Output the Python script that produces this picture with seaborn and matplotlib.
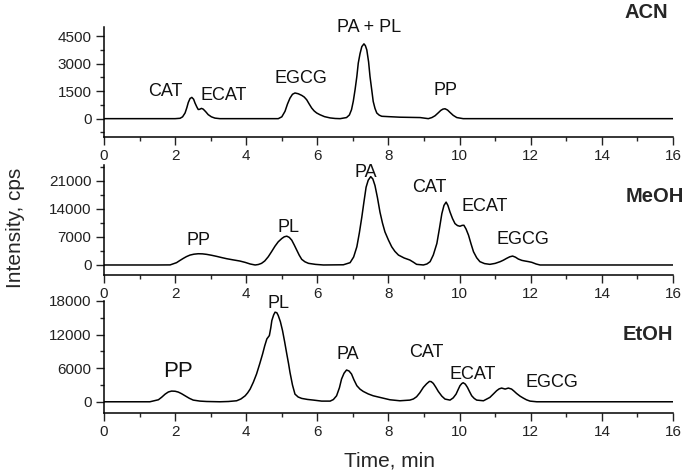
# =========================
# 1. Import Libraries
# =========================
import pandas as pd
import numpy as np
import seaborn as sns
import matplotlib.pyplot as plt
from matplotlib.ticker import MultipleLocator

# =========================
# 2. Data
# =========================
# ACN
acn_time = [0, 2.0, 2.14, 2.21, 2.28, 2.33, 2.37, 2.42, 2.47, 2.52, 2.56, 2.61, 2.65,
            2.69, 2.74, 2.79, 2.86, 2.93, 3.02, 3.12, 3.26, 4.9, 5.0, 5.09, 5.16, 5.23,
            5.30, 5.37, 5.46, 5.56, 5.63, 5.70, 5.77, 5.84, 5.91, 5.98, 6.07, 6.2, 6.36,
            6.5, 6.64, 6.82, 6.90, 6.96, 7.01, 7.06, 7.11, 7.15, 7.20, 7.25, 7.31, 7.35,
            7.39, 7.44, 7.48, 7.53, 7.57, 7.62, 7.67, 7.74, 7.81, 8.0, 8.32, 8.89, 9.12,
            9.22, 9.31, 9.40, 9.47, 9.53, 9.59, 9.66, 9.73, 9.82, 9.92, 10.1, 16]
acn_int = [0, 0, 20, 100, 310, 600, 880, 1100, 1160, 1060, 850, 640, 500,
           510, 560, 520, 380, 220, 100, 30, 0, 0, 100, 400, 800, 1120,
           1330, 1400, 1360, 1270, 1180, 1030, 800, 580, 420, 310, 217, 110, 40,
           10, 0, 60, 200, 490, 950, 1580, 2300, 3030, 3550, 3930, 4080, 3980,
           3750, 3100, 2300, 1550, 940, 560, 310, 190, 130, 110, 80, 60, 0,
           60, 160, 320, 450, 520, 540, 470, 340, 180, 60, 0, 0]

# MeOH
meoh_time = [0, 1.5, 1.86, 2.04, 2.13, 2.23, 2.32, 2.42, 2.53, 2.65, 2.77, 2.89, 3.03,
             3.17, 3.31, 3.45, 3.63, 3.82, 3.97, 4.11, 4.25, 4.34, 4.43, 4.52, 4.62,
             4.71, 4.81, 4.90, 5.0, 5.07, 5.14, 5.21, 5.28, 5.35, 5.42, 5.49, 5.56,
             5.65, 5.75, 5.95, 6.17, 6.73, 6.92, 7.02, 7.11, 7.18, 7.25, 7.31, 7.37,
             7.43, 7.5, 7.56, 7.62, 7.69, 7.76, 7.83, 7.9, 8.0, 8.09, 8.18, 8.28, 8.44,
             8.6, 8.7, 8.79, 8.98, 9.08, 9.17, 9.26, 9.36, 9.43, 9.5, 9.56, 9.62, 9.67,
             9.73, 9.8, 9.87, 9.94, 10.01, 10.07, 10.12, 10.18, 10.25, 10.32, 10.39,
             10.48, 10.57, 10.7, 10.85, 11.0, 11.14, 11.23, 11.32, 11.41, 11.49, 11.57,
             11.65, 11.75, 11.84, 11.93, 12.03, 12.15, 12.26, 16]
meoh_int = [0, 0, 20, 580, 1100, 1650, 2100, 2480, 2700, 2810, 2780, 2650, 2420,
            2150, 1850, 1570, 1280, 990, 650, 250, 0, 120, 410, 1000, 2070,
            3300, 4720, 5800, 6620, 7050, 7200, 6900, 6200, 5000, 3720, 2450, 1410,
            800, 410, 150, 0, 50, 580, 2000, 4550, 8000, 11990, 15800, 19440,
            21200, 22090, 21500, 19860, 16800, 13230, 10500, 8270, 6200, 4550, 3400, 2480, 1750,
            1240, 700, 160, 0, 250, 830, 2500, 5380, 9000, 12830, 14900, 15720, 14900,
            13230, 11600, 10340, 9850, 9680, 9900, 9930, 9000, 7450, 5300, 3310,
            1800, 830, 350, 160, 400, 830, 1200, 1650, 2050, 2230, 1950,
            1490, 1150, 990, 850, 660, 250, 0, 0]

# EtOH
etoh_time = [0, 1.29, 1.53, 1.62, 1.72, 1.81, 1.9, 2.0, 2.09, 2.18, 2.28, 2.4, 2.51,
             2.7, 2.89, 3.26, 3.5, 3.73, 3.85, 3.97, 4.04, 4.11, 4.2, 4.29, 4.38, 4.46,
             4.52, 4.58, 4.65, 4.69, 4.72, 4.77, 4.81, 4.86, 4.9, 4.96, 5.02, 5.08,
             5.14, 5.19, 5.23, 5.3, 5.37, 5.46, 5.56, 5.72, 5.89, 6.12, 6.36, 6.45,
             6.54, 6.62, 6.68, 6.75, 6.82, 6.89, 6.96, 7.03, 7.11, 7.2, 7.29, 7.43,
             7.57, 7.76, 8.04, 8.32, 8.6, 8.7, 8.79, 8.88, 8.98, 9.07, 9.15, 9.2, 9.26,
             9.33, 9.4, 9.5, 9.59, 9.73, 9.82, 9.9, 9.96, 10.01, 10.06, 10.1, 10.16,
             10.22, 10.28, 10.34, 10.41, 10.48, 10.67, 10.85, 10.95, 11.04, 11.11,
             11.18, 11.28, 11.37, 11.46, 11.53, 11.6, 11.7, 11.79, 11.88, 11.98, 12.17, 16]
etoh_int = [0, 0, 360, 800, 1370, 1750, 1910, 1880, 1730, 1450, 1070, 620, 300,
            120, 50, 0, 50, 180, 500, 1070, 1600, 2270, 3500, 4960, 6800, 8540,
            10000, 11230, 11820, 13200, 14510, 15500, 16000, 15900, 15400, 14300, 12720, 10700,
            8540, 6800, 5250, 3000, 1370, 850, 600, 420, 300, 120, 120, 400,
            1070, 2500, 4060, 5100, 5670, 5500, 4960, 3900, 2870, 2250, 1850, 1400,
            1070, 780, 360, 180, 300, 500, 900, 1600, 2570, 3200, 3640, 3600, 3280,
            2600, 1850, 1000, 480, 300, 700, 1370, 2200, 2870, 3250, 3400, 3150,
            2570, 1800, 1070, 600, 300, 180, 780, 1400, 1970, 2300,
            2450, 2270, 2450, 2270, 1900, 1490, 1000, 660, 350, 120, 0, 0]

# peak labels: (text, time, intensity, fontsize)
acn_labels = [("CAT", 1.72, 1210, 13), ("ECAT", 3.37, 1030, 13), ("EGCG", 5.53, 1970, 13),
              ("PA + PL", 7.45, 4745, 13), ("PP", 9.61, 1300, 13)]
meoh_labels = [("PP", 2.67, 4960, 13), ("PL", 5.2, 8270, 13), ("PA", 7.37, 21900, 13),
               ("CAT", 9.14, 18190, 13), ("ECAT", 10.71, 13400, 13), ("EGCG", 11.78, 5130, 13)]
etoh_labels = [("PP", 2.07, 4480, 16), ("PL", 4.9, 16800, 13), ("PA", 6.85, 7640, 13),
               ("CAT", 9.07, 7940, 13), ("ECAT", 10.38, 4060, 13), ("EGCG", 12.59, 2570, 13)]

panels = [
    ("ACN", acn_time, acn_int, acn_labels, (-1000, 5000), [0, 1500, 3000, 4500], 750),
    ("MeOH", meoh_time, meoh_int, meoh_labels, (-2500, 25000), [0, 7000, 14000, 21000], 3500),
    ("EtOH", etoh_time, etoh_int, etoh_labels, (-2000, 18000), [0, 6000, 12000, 18000], 3000),
]

# =========================
# 3. Style
# =========================
sns.set_style("ticks")
plt.rcParams["font.family"] = ["Liberation Sans", "DejaVu Sans"]

fig = plt.figure(figsize=(6.85, 4.76), dpi=100)

# axes boxes in figure fraction (left, bottom, width, height)
boxes = [
    (0.1518, 0.7122, 0.8307, 0.2311),
    (0.1518, 0.4223, 0.8307, 0.2311),
    (0.1518, 0.1324, 0.8307, 0.2353),
]
# solvent name anchor (right edge x in data, y in axes fraction)
name_pos = [(15.86, 1.08), (16.3, 0.66), (16.0, 0.65)]

# =========================
# 4. Plot
# =========================
for (name, t, inten, labels, ylim, yt, ymin_step), box, npos in zip(panels, boxes, name_pos):
    ax = fig.add_axes(box)
    df = pd.DataFrame({"time": t, "intensity": inten})
    sns.lineplot(data=df, x="time", y="intensity", ax=ax, color="black", linewidth=1.1)

    ax.set_xlim(0, 16)
    ax.set_ylim(*ylim)
    ax.set_xticks(range(0, 17, 2))
    ax.xaxis.set_minor_locator(MultipleLocator(1))
    ax.set_yticks(yt)
    ax.yaxis.set_minor_locator(MultipleLocator(ymin_step))
    ax.tick_params(which="major", length=6, width=1.0, labelsize=11, pad=3, colors="#222222")
    ax.tick_params(which="minor", length=3, width=1.0)
    ax.set_xlabel("")
    ax.set_ylabel("")
    sns.despine(ax=ax)
    for s in ["left", "bottom"]:
        ax.spines[s].set_linewidth(1.1)
        ax.spines[s].set_color("black")

    for txt, x, y, fs in labels:
        ax.text(x, y, txt, ha="center", va="baseline", fontsize=fs, color="#111111")

    ax.text(npos[0], npos[1], name, transform=ax.get_xaxis_transform(), ha="right",
            va="baseline", fontsize=14.5, fontweight="bold", clip_on=False)

fig.text(0.022, 0.521, "Intensity, cps", rotation=90, ha="center", va="center", fontsize=15)
fig.text(0.569, 0.031, "Time, min", ha="center", va="center", fontsize=15)

plt.savefig("out.png", dpi=100)
